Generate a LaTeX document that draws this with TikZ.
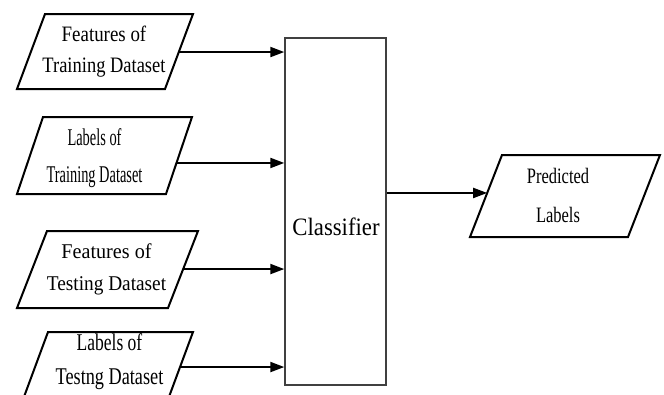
\documentclass[tikz,border=0pt]{standalone}
\usepackage{fontspec}
\usepackage{graphicx}
\setmainfont{Liberation Serif}
\usetikzlibrary{arrows.meta,calc}

% horizontally condensed line of text
\newcommand{\cond}[2]{\scalebox{#1}[1]{#2}}

\begin{document}
\begin{tikzpicture}[x=1pt,y=-1pt,
  io/.style={draw=black, line width=2pt, line join=miter},
  txt/.style={align=center, inner sep=0pt},
  arr/.style={-{Triangle[length=14pt,width=10pt]}, line width=2pt},
]
\clip (0,0) rectangle (664,394);
\fill[white] (0,0) rectangle (664,394);

% input data blocks (parallelograms), corners: top left, top right, bottom right, bottom left
\coordinate (p1tl) at (45,14);   \coordinate (p1tr) at (193,14);
\coordinate (p1br) at (165,89);  \coordinate (p1bl) at (17,89);
\coordinate (p2tl) at (43,117);  \coordinate (p2tr) at (192,117);
\coordinate (p2br) at (166,194); \coordinate (p2bl) at (17,194);
\coordinate (p3tl) at (47,231);  \coordinate (p3tr) at (198,231);
\coordinate (p3br) at (168,308); \coordinate (p3bl) at (17,308);
\coordinate (p4tl) at (48,332);  \coordinate (p4tr) at (193,332);
\coordinate (p4br) at (164.5,409); \coordinate (p4bl) at (19.5,409);
\foreach \p in {p1,p2,p3,p4}
  \draw[io] (\p tl) -- (\p tr) -- (\p br) -- (\p bl) -- cycle;

\node[txt, font=\fontsize{22}{31}\selectfont] (t1) at (104,52)
  {\cond{0.86}{Features of}\\\cond{0.84}{Training Dataset}};
\node[txt, font=\fontsize{24}{37}\selectfont] (t2) at (94.5,158)
  {\cond{0.6}{Labels of}\\\cond{0.6}{Training Dataset}};
\node[txt, font=\fontsize{21}{32}\selectfont] (t3) at (106.5,269)
  {\cond{0.96}{Features of}\\\cond{0.92}{Testing Dataset}};
\node[txt, font=\fontsize{24}{34}\selectfont] (t4) at (109.5,362)
  {\cond{0.73}{Labels of}\\\cond{0.76}{Testng Dataset}};

% classifier
\node[draw=black!75, line width=1.4pt, minimum width=101pt, minimum height=347pt,
  inner sep=0pt] (clf) at (335.5,211.5) {};
\node[txt, font=\fontsize{25}{30}\selectfont] (clft) at (336,227) {\cond{0.91}{Classifier}};

% output block
\coordinate (otl) at (502,155); \coordinate (otr) at (660,155);
\coordinate (obr) at (628,237); \coordinate (obl) at (470,237);
\draw[io] (otl) -- (otr) -- (obr) -- (obl) -- cycle;
\node[txt, font=\fontsize{22}{39}\selectfont] (tout) at (558,195)
  {\cond{0.75}{Predicted}\\\cond{0.75}{Labels}};

% connectors, leaving each slanted edge at the arrow's height
\coordinate (s1) at ($(p1tr)!0.507!(p1br)$);
\coordinate (s2) at ($(p2tr)!0.597!(p2br)$);
\coordinate (s3) at ($(p3tr)!0.494!(p3br)$);
\coordinate (s4) at ($(p4tr)!0.455!(p4br)$);
\draw[arr] (s1) -- (s1 -| clf.west);
\draw[arr] (s2) -- (s2 -| clf.west);
\draw[arr] (s3) -- (s3 -| clf.west);
\draw[arr] (s4) -- (s4 -| clf.west);
\coordinate (o1) at ($(otl)!0.463!(obl)$);
\draw[arr] (o1 -| clf.east) -- (o1);
\end{tikzpicture}
\end{document}
